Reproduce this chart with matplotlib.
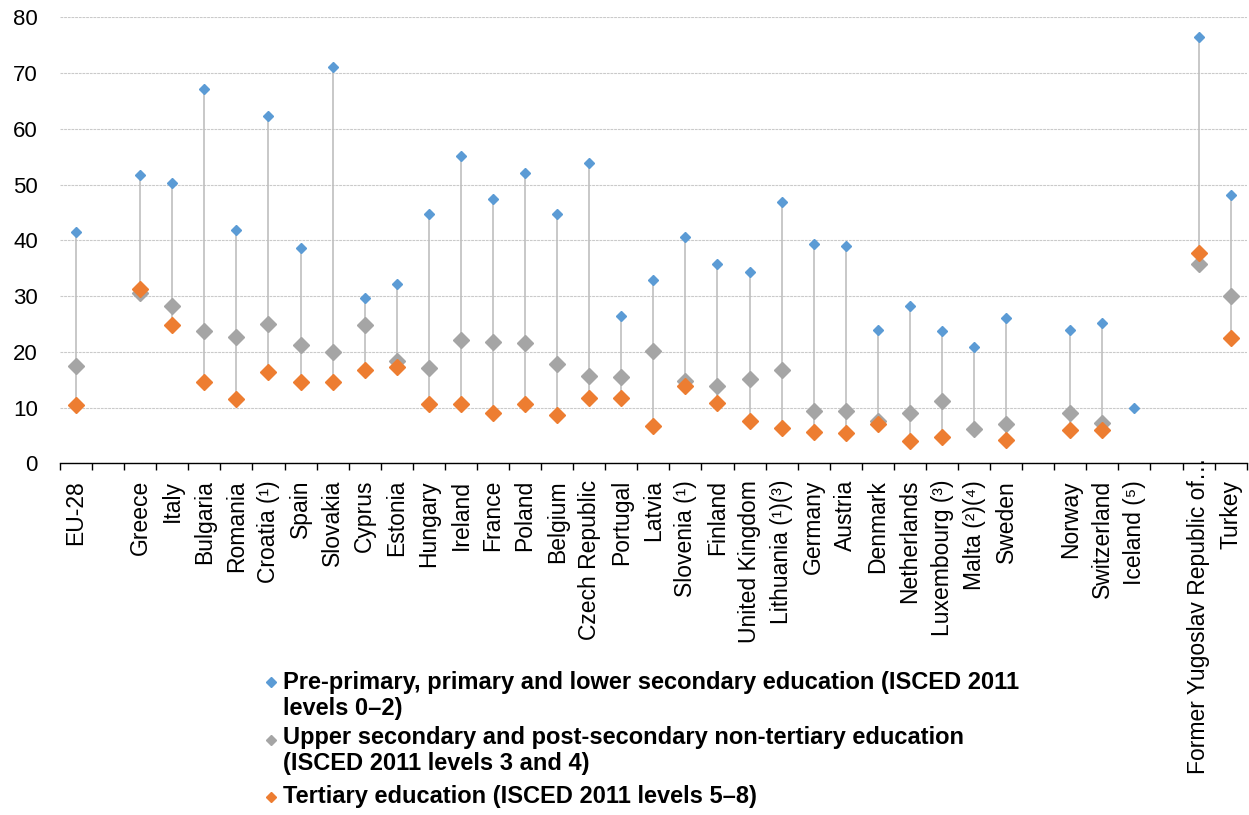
import numpy as np
import matplotlib
matplotlib.use("Agg")
import matplotlib.pyplot as plt
from matplotlib.ticker import FixedLocator, NullFormatter
from matplotlib.transforms import offset_copy

plt.rcParams['font.family'] = ['Liberation Sans', 'DejaVu Sans']

nan = np.nan

countries = ["EU-28", "", "Greece", "Italy", "Bulgaria", "Romania", "Croatia (¹)",
             "Spain", "Slovakia", "Cyprus", "Estonia", "Hungary", "Ireland", "France",
             "Poland", "Belgium", "Czech Republic", "Portugal", "Latvia", "Slovenia (¹)",
             "Finland", "United Kingdom", "Lithuania (¹)(³)", "Germany", "Austria",
             "Denmark", "Netherlands", "Luxembourg (³)", "Malta (²)(⁴)", "Sweden", "",
             "Norway", "Switzerland", "Iceland (⁵)", "", "Former Yugoslav Republic of…",
             "Turkey"]

lower_secondary = [41.5, nan, 51.7, 50.2, 67.1, 41.9, 62.3, 38.6, 71.1, 29.6, 32.1,
                   44.7, 55.1, 47.4, 52.1, 44.7, 53.9, 26.5, 32.9, 40.6, 35.8, 34.4,
                   46.9, 39.3, 39.0, 23.9, 28.2, 23.7, 20.9, 26.1, nan, 23.9, 25.2,
                   9.9, nan, 76.4, 48.1]
upper_secondary = [17.5, nan, 30.5, 28.2, 23.7, 22.7, 24.9, 21.2, 20.0, 24.8, 18.3,
                   17.1, 22.2, 21.7, 21.5, 17.8, 15.7, 15.5, 20.2, 14.8, 13.9, 15.1,
                   16.7, 9.3, 9.3, 7.5, 9.1, 11.2, 6.2, 7.0, nan, 9.0, 7.2,
                   nan, nan, 35.7, 30.0]
tertiary = [10.4, nan, 31.3, 24.8, 14.5, 11.6, 16.4, 14.5, 14.6, 16.7, 17.2,
            10.7, 10.6, 9.0, 10.6, 8.7, 11.7, 11.8, 6.7, 13.9, 10.8, 7.5,
            6.3, 5.6, 5.4, 7.0, 4.0, 4.7, nan, 4.1, nan, 6.0, 5.9,
            nan, nan, 37.8, 22.5]

legend_labels = [
    "Pre-primary, primary and lower secondary education (ISCED 2011\nlevels 0\u20132)",
    "Upper secondary and post-secondary non-tertiary education\n(ISCED 2011 levels 3 and 4)",
    "Tertiary education (ISCED 2011 levels 5\u20138)",
]

BLUE = "#5B9BD5"
GREY = "#A5A5A5"
ORANGE = "#ED7D31"
LINE = "#BFBFBF"

W, H = 1249, 815
fig = plt.figure(figsize=(W / 100, H / 100), dpi=100)
ax = fig.add_axes([60 / W, 1 - 463.3 / H, (1246.7 - 60) / W, (463.3 - 17.3) / H])

x = np.arange(len(countries))
lo = np.array(lower_secondary, dtype=float)
up = np.array(upper_secondary, dtype=float)
te = np.array(tertiary, dtype=float)

# high-low connector lines
stack = np.vstack([lo, up, te])
ymin = np.min(np.where(np.isnan(stack), np.inf, stack), axis=0)
ymax = np.max(np.where(np.isnan(stack), -np.inf, stack), axis=0)
has = np.sum(~np.isnan(stack), axis=0) >= 2
ax.vlines(x[has], ymin[has], ymax[has], color=LINE, lw=1.2, zorder=2)

ax.plot(x, lo, linestyle="none", marker="D", ms=5.4, color=BLUE, mec=BLUE, zorder=3)
ax.plot(x, up, linestyle="none", marker="D", ms=8.6, color=GREY, mec=GREY, zorder=4)
ax.plot(x, te, linestyle="none", marker="D", ms=8.6, color=ORANGE, mec=ORANGE, zorder=5)

ax.set_xlim(-0.5, len(countries) - 0.5)
ax.set_ylim(0, 80)
ax.set_yticks(np.arange(0, 81, 10))
ax.yaxis.grid(True, color="#CACACA", linestyle=(0, (2.5, 0.8)), lw=0.8)
ax.set_axisbelow(True)
ax.tick_params(axis="y", length=0, pad=16, labelsize=16)

# category labels; the truncated last-but-one label is placed by hand so its
# ellipsis runs up over the axis line
tick_labels = list(countries)
long_idx = 35
tick_labels[long_idx] = ""
ax.set_xticks(x)
ax.set_xticklabels(tick_labels, rotation=90, fontsize=16.5, va="top", ha="center")
ax.tick_params(axis="x", which="major", length=0, pad=12)
ax.xaxis.set_minor_locator(FixedLocator(np.arange(-0.5, len(countries), 1.0)))
ax.xaxis.set_minor_formatter(NullFormatter())
ax.tick_params(axis="x", which="minor", length=5, width=1, color="black", direction="out")

ax.text(x[long_idx], 0, countries[long_idx], rotation=90, fontsize=16.5,
        ha="center", va="top", clip_on=False, zorder=1,
        transform=offset_copy(ax.get_xaxis_transform(), fig=fig, y=6, units="dots"))

for s in ["top", "right", "left"]:
    ax.spines[s].set_visible(False)
ax.spines["bottom"].set_color("black")
ax.spines["bottom"].set_linewidth(1)
ax.spines["bottom"].set_zorder(6)

# legend drawn in figure coordinates
def fx(px):
    return px / W

def fy(py):
    return 1 - py / H

entries = [(BLUE, 682, 689.3), (GREY, 740, 744), (ORANGE, 797, 802.7)]
for (col, my, by), lab in zip(entries, legend_labels):
    ax.plot([fx(271)], [fy(my)], marker="D", ms=5.2, color=col, mec=col,
            transform=fig.transFigure, clip_on=False, linestyle="none")
    lines = lab.split("\n")
    for i, ln in enumerate(lines):
        fig.text(fx(283), fy(by + i * 26), ln, fontsize=17, fontweight="bold",
                 ha="left", va="baseline")

fig.savefig("out.png", dpi=100)
